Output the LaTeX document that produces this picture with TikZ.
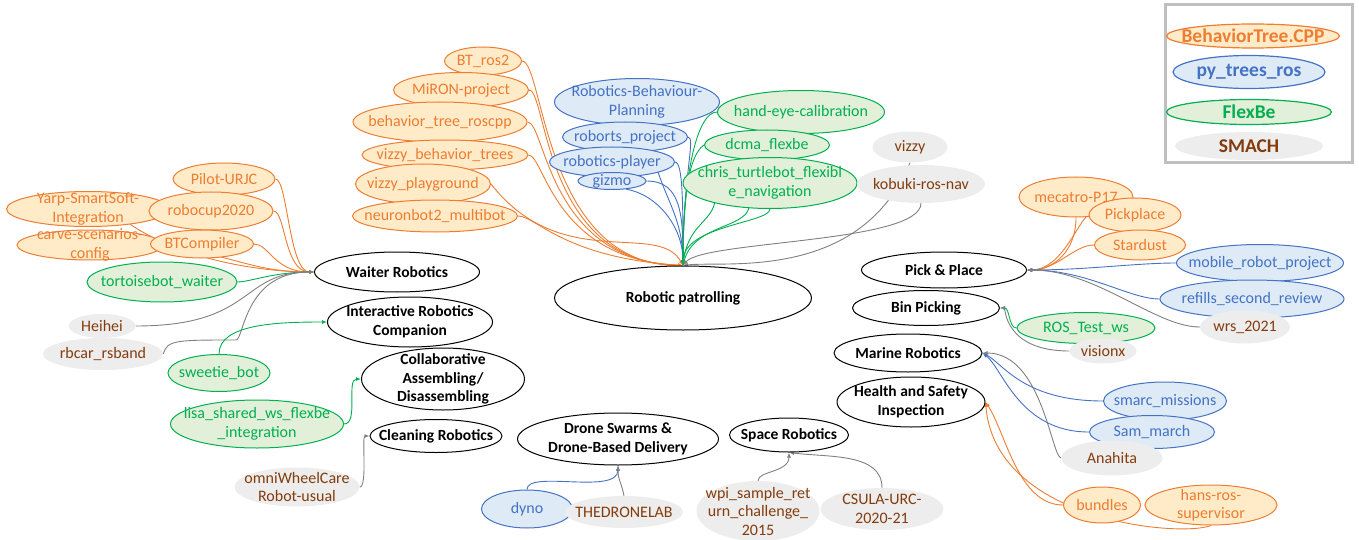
\documentclass[tikz,border=0pt]{standalone}
\usepackage{fontspec}
\setmainfont{Carlito}
\usetikzlibrary{shapes.geometric,arrows.meta}
\definecolor{ocol}{HTML}{ED7D31}
\definecolor{ofill}{HTML}{FFEBC8}
\definecolor{bcol}{HTML}{4472C4}
\definecolor{bfill}{HTML}{DEEBF7}
\definecolor{gcol}{HTML}{00B050}
\definecolor{gfill}{HTML}{E2F0D9}
\definecolor{sfill}{HTML}{EDEDED}
\definecolor{stxt}{HTML}{843C0C}
\definecolor{scol}{HTML}{808080}
\definecolor{lgray}{HTML}{BFBFBF}
\pgfdeclarelayer{bg}
\pgfsetlayers{bg,main}
\newcommand\srcfont{\fontsize{16}{18.5}\selectfont}
\newcommand\catfont{\fontsize{15.5}{18.8}\selectfont\bfseries}
\newcommand\legfont{\fontsize{19.5}{22}\selectfont\bfseries}
\newcommand\bub[7]{%
  \node[#1bub, minimum width=#5pt, minimum height=#6pt, inner sep=0pt] (#2) at (#3,#4) {};
  \node[#1text, inner sep=0pt] (#2-t) at (#2.center) {#7};}
\tikzset{
  obub/.style={ellipse, draw=ocol, fill=ofill, line width=1pt},
  otext/.style={text=ocol, font=\srcfont, align=center},
  bbub/.style={ellipse, draw=bcol, fill=bfill, line width=1pt},
  btext/.style={text=bcol, font=\srcfont, align=center},
  gbub/.style={ellipse, draw=gcol, fill=gfill, line width=1pt},
  gtext/.style={text=gcol, font=\srcfont, align=center},
  sbub/.style={ellipse, fill=sfill},
  stext/.style={text=stxt, font=\srcfont, align=center},
  cbub/.style={ellipse, draw=black, fill=white, line width=1pt},
  ctext/.style={text=black, font=\catfont, align=center},
  lobub/.style={ellipse, draw=ocol, fill=ofill, line width=1.2pt},
  lotext/.style={text=ocol, font=\legfont},
  lbbub/.style={ellipse, draw=bcol, fill=bfill, line width=1.2pt},
  lbtext/.style={text=bcol, font=\legfont},
  lgbub/.style={ellipse, draw=gcol, fill=gfill, line width=1.2pt},
  lgtext/.style={text=gcol, font=\legfont},
  lsbub/.style={ellipse, fill=sfill},
  lstext/.style={text=stxt, font=\legfont},
  con/.style={line width=0.9pt, -{Latex[length=5pt,width=4pt]}},
  oe/.style={con, draw=ocol},
  be/.style={con, draw=bcol},
  ge/.style={con, draw=gcol},
  se/.style={con, draw=scol},
}
\begin{document}
\begin{tikzpicture}[x=1pt,y=-1pt]
\useasboundingbox (0,0) rectangle (1359,540);
% legend
\node[draw=lgray, line width=3pt, minimum width=187pt, minimum height=158pt, inner sep=0pt] (legend) at (1258.5,84) {};
\bub{lo}{lbt}{1253}{36}{173}{24}{BehaviorTree.CPP}
\bub{lb}{lpy}{1249}{72}{152}{33}{py\_trees\_ros}
\bub{lg}{lfb}{1249}{112}{165}{25}{FlexBe}
\bub{ls}{lsm}{1249}{146}{148}{28}{SMACH}
% categories
\bub{c}{wr}{397}{272}{165}{40}{Waiter Robotics}
\bub{c}{irc}{410}{322}{165}{50}{Interactive Robotics\\Companion}
\bub{c}{col}{443}{379}{163}{62}{Collaborative\\Assembling/\\Disassembling}
\bub{c}{cln}{436}{436}{132}{33}{Cleaning Robotics}
\bub{c}{rp}{683}{298}{257}{64}{Robotic patrolling}
\bub{c}{dr}{618}{439}{201}{52}{Drone Swarms \&\\Drone-Based Delivery}
\bub{c}{sp}{789}{435}{119}{34}{Space Robotics}
\bub{c}{pp}{944}{270}{165}{36}{Pick \& Place}
\bub{c}{bp}{926}{308}{147}{35}{Bin Picking}
\bub{c}{mr}{908}{353}{148}{38}{Marine Robotics}
\bub{c}{hs}{911}{402}{148}{50}{Health and Safety\\Inspection}
% patrolling sources
\bub{o}{bt2}{483}{61}{77}{28}{BT\_ros2}
\bub{o}{miron}{461}{90}{135}{35}{MiRON-project}
\bub{o}{btr}{440}{122}{174}{40}{behavior\_tree\_roscpp}
\bub{o}{vbt}{445}{155}{166}{30}{vizzy\_behavior\_trees}
\bub{o}{vpg}{423}{184}{135}{40}{vizzy\_playground}
\bub{o}{neu}{435}{216}{165}{32}{neuronbot2\_multibot}
\bub{b}{rbp}{637}{102}{165}{47}{Robotics-Behaviour-\\Planning}
\bub{b}{rob}{625}{137}{125}{30}{roborts\_project}
\bub{b}{rpl}{612}{162}{125}{30}{robotics-player}
\bub{b}{giz}{612}{181}{68}{17}{gizmo}
\bub{g}{hec}{801}{112}{167}{43}{hand-eye-calibration}
\bub{g}{dcma}{767}{145}{125}{30}{dcma\_flexbe}
\bub{g}{chris}{770}{183}{174}{51}{chris\_turtlebot\_flexibl\\e\_navigation}
\bub{s}{viz}{910}{147}{75}{31}{vizzy}
\bub{s}{kob}{921}{184}{128}{38}{kobuki-ros-nav}
% waiter sources
\bub{o}{pil}{224}{179}{102}{32}{Pilot-URJC}
\bub{o}{yarp}{88}{209}{163}{35}{Yarp-SmartSoft-\\Integration}
\bub{o}{rc}{211}{211}{124}{38}{robocup2020}
\bub{o}{carve}{90}{245}{146}{30}{carve-scenarios-\\config}
\bub{o}{btc}{202}{244}{103}{28}{BTCompiler}
\bub{g}{tor}{162}{282}{150}{40}{tortoisebot\_waiter}
\bub{s}{hei}{102}{326}{67}{24}{Heihei}
\bub{s}{rbc}{103}{354}{120}{32}{rbcar\_rsband}
% other left sources
\bub{g}{swb}{219}{373}{102}{37}{sweetie\_bot}
\bub{g}{lisa}{257}{424}{173}{48}{lisa\_shared\_ws\_flexbe\\\_integration}
\bub{s}{omni}{297}{487}{125}{39}{omniWheelCare\\Robot-usual}
% bottom sources
\bub{b}{dyno}{527}{509}{91}{38}{dyno}
\bub{s}{tdl}{624}{512}{118}{32}{THEDRONELAB}
\bub{s}{wpi}{758}{511}{123}{60}{wpi\_sample\_ret\\urn\_challenge\_\\2015}
\bub{s}{csu}{882}{509}{123}{42}{CSULA-URC-\\2020-21}
% right sources
\bub{o}{mec}{1076}{197}{114}{40}{mecatro-P17}
\bub{o}{pkp}{1135}{215}{92}{34}{Pickplace}
\bub{o}{std}{1140}{245}{91}{30}{Stardust}
\bub{b}{mob}{1260}{263}{167}{37}{mobile\_robot\_project}
\bub{b}{ref}{1252}{299}{184}{38}{refills\_second\_review}
\bub{s}{wrs}{1245}{327}{90}{33}{wrs\_2021}
\bub{g}{rtw}{1086}{328}{138}{31}{ROS\_Test\_ws}
\bub{s}{vix}{1103}{351}{67}{25}{visionx}
\bub{b}{smc}{1165}{401}{123}{38}{smarc\_missions}
\bub{b}{sam}{1152}{432}{125}{33}{Sam\_march}
\bub{s}{ana}{1112}{458}{101}{35}{Anahita}
\bub{o}{bun}{1102}{505}{77}{36}{bundles}
\bub{o}{hans}{1211}{505}{132}{40}{hans-ros-\\supervisor}
\coordinate (rbk) at (236,340);
% connectors
\begin{pgfonlayer}{bg}
% patrolling
\draw[oe] (bt2.east) .. controls +(22,0) and +(-140,0) .. (rp.north);
\draw[oe] (miron.east) .. controls +(18,0) and +(-140,-2) .. (rp.north);
\draw[oe] (btr.east) .. controls +(18,0) and +(-135,-4) .. (rp.north);
\draw[oe] (vbt.east) .. controls +(16,0) and +(-130,-6) .. (rp.north);
\draw[oe] (neu.east) .. controls +(18,0) and +(-120,-8) .. (rp.north);
\draw[oe] (vpg.east) .. controls +(70,90) and +(-25,-45) .. (rp.north);
\draw[be] (rbp.300) .. controls +(0,60) and +(0,-60) .. (rp.north);
\draw[be] (rob.east) .. controls +(8,0) and +(0,-90) .. (rp.north);
\draw[be] (rpl.east) .. controls +(8,0) and +(0,-60) .. (rp.north);
\draw[be] (giz.east) .. controls +(35,0) and +(0,-50) .. (rp.north);
\draw[be] (giz.330) .. controls +(30,5) and +(0,-40) .. (rp.north);
\draw[ge] (hec.west) .. controls +(-20,0) and +(0,-90) .. (rp.north);
\draw[ge] (dcma.west) .. controls +(-15,10) and +(0,-70) .. (rp.north);
\draw[ge] (chris.200) .. controls +(-5,20) and +(5,-40) .. (rp.north);
\draw[ge] (chris.230) .. controls +(-5,20) and +(10,-40) .. (rp.north);
\draw[ge] (chris.south) .. controls +(0,14) and +(0,-40) .. (rp.north);
\draw[se] (viz.south) .. controls +(-50,120) and +(40,-5) .. (rp.north);
\draw[se] (kob.south) .. controls +(0,40) and +(20,-25) .. (rp.north);
% waiter
\draw[oe] (pil.east) .. controls +(12,0) and +(-25,0) .. (wr.west);
\draw[oe] (rc.east) .. controls +(12,0) and +(-30,0) .. (wr.west);
\draw[oe] (btc.east) .. controls +(15,0) and +(-40,0) .. (wr.west);
\draw[oe] (yarp.340) .. controls +(60,40) and +(-40,0) .. (wr.west);
\draw[oe] (carve.east) .. controls +(75,12) and +(-60,0) .. (wr.west);
\draw[ge] (tor.east) .. controls +(12,0) and +(-40,0) .. (wr.west);
\draw[se] (hei.east) .. controls +(120,0) and +(-75,0) .. (wr.west);
\draw[se] (rbc.east) .. controls +(4,-14) and +(-60,0) .. (rbk) .. controls +(8,0) and +(-70,0) .. (wr.west);
% other
\draw[ge] (swb.north) .. controls +(0,-30) and +(-50,0) .. (irc.west);
\draw[ge] (lisa.east) .. controls +(15,0) and +(-15,0) .. (col.west);
\draw[se] (omni.east) .. controls +(8,0) and +(-8,0) .. (cln.west);
\draw[be] (dyno.north) .. controls +(0,-20) and +(0,30) .. (dr.south);
\draw[se] (tdl.north) .. controls +(-3,-15) and +(0,15) .. (dr.south);
\draw[se] (wpi.north) .. controls +(0,-10) and +(0,20) .. (sp.south);
\draw[se] (csu.north) .. controls +(0,-35) and +(40,5) .. (sp.south);
% pick and place
\draw[oe] (mec.south) .. controls +(0,35) and +(25,0) .. (pp.east);
\draw[oe] (pkp.west) .. controls +(-10,5) and +(35,0) .. (pp.east);
\draw[oe] (std.west) .. controls +(-20,0) and +(30,0) .. (pp.east);
\draw[be] (mob.west) .. controls +(-40,0) and +(60,0) .. (pp.east);
\draw[be] (ref.west) .. controls +(-30,0) and +(60,0) .. (pp.east);
\draw[se] (wrs.west) .. controls +(-45,0) and +(70,0) .. (pp.east);
% bin picking
\draw[ge] (rtw.west) .. controls +(-8,0) and +(10,0) .. (bp.east);
\draw[se] (vix.west) .. controls +(-65,0) and +(5,0) .. (bp.east);
% marine
\draw[be] (smc.west) .. controls +(-80,0) and +(20,10) .. (mr.east);
\draw[be] (sam.west) .. controls +(-70,0) and +(20,15) .. (mr.east);
\draw[se] (ana.west) .. controls +(-10,0) and +(60,0) .. (mr.east);
% health
\draw[oe] (bun.west) .. controls +(-45,0) and +(20,30) .. (hs.east);
\draw[oe] (hans.south) .. controls +(-30,12) and +(10,120) .. (hs.east);
\end{pgfonlayer}
\end{tikzpicture}
\end{document}
